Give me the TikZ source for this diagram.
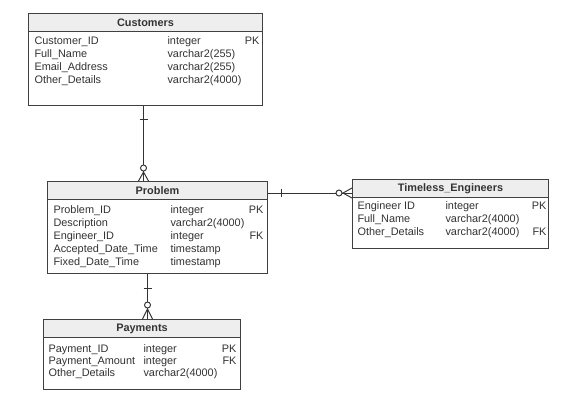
\documentclass[tikz,border=0pt]{standalone}
\usepackage{fontspec}
\setmainfont{Liberation Sans}
\usepackage{xcolor}
\usetikzlibrary{positioning}
\definecolor{edge}{HTML}{404040}
\definecolor{ink}{HTML}{333333}
\definecolor{head}{HTML}{EEEEEE}
\tikzset{
  tbl/.style = {draw=edge, fill=white, anchor=north west, inner sep=0},
  hdr/.style = {draw=edge, fill=head, anchor=north west, inner sep=0, minimum height=0.36cm, text=ink, font=\fontsize{6.2}{7}\selectfont\bfseries},
  fld/.style = {anchor=west, inner sep=0, text=ink, text height=1.6ex, text depth=0.45ex},
  key/.style = {anchor=east, inner sep=0, text=ink, text height=1.6ex, text depth=0.45ex},
  rel/.style = {draw=black!80, line width=0.55pt}
}

\begin{document}
\begin{tikzpicture}[x=0.02cm, y=-0.02cm, line width=0.6pt, font=\fontsize{6.2}{7}\selectfont]
  \useasboundingbox (0, 0) rectangle (563, 414);

  % tables
  \node[tbl, minimum width=4.68cm, minimum height=1.84cm] (cust) at (28, 13) {};
  \node[hdr, minimum width=4.68cm] (cust-h) at (cust.north west) {Customers};
  \node[tbl, minimum width=4.4cm, minimum height=1.84cm] (prob) at (47, 181) {};
  \node[hdr, minimum width=4.4cm] (prob-h) at (prob.north west) {Problem};
  \node[tbl, minimum width=3.92cm, minimum height=1.38cm] (eng) at (352, 179) {};
  \node[hdr, minimum width=3.92cm] (eng-h) at (eng.north west) {Timeless\_Engineers};
  \node[tbl, minimum width=3.94cm, minimum height=1.4cm] (pay) at (43, 319) {};
  \node[hdr, minimum width=3.94cm] (pay-h) at (pay.north west) {Payments};

  % columns
  \foreach \n/\t/\k [count=\i] in {Customer\_ID/integer/PK, Full\_Name/varchar2(255)/, Email\_Address/varchar2(255)/, Other\_Details/varchar2(4000)/}{
    \node[fld] (cust-n\i) at (34, 26 + 13*\i) {\n};
    \node[fld] (cust-t\i) at (167, 26 + 13*\i) {\t};
    \node[key] (cust-k\i) at (260, 26 + 13*\i) {\k};
  }
  \foreach \n/\t/\k [count=\i] in {Problem\_ID/integer/PK, Description/varchar2(4000)/, Engineer\_ID/integer/FK, Accepted\_Date\_Time/timestamp/, Fixed\_Date\_Time/timestamp/}{
    \node[fld] (prob-n\i) at (53, 195 + 13*\i) {\n};
    \node[fld] (prob-t\i) at (170, 195 + 13*\i) {\t};
    \node[key] (prob-k\i) at (264, 195 + 13*\i) {\k};
  }
  \foreach \n/\t/\k [count=\i] in {Engineer ID/integer/PK, Full\_Name/varchar2(4000)/, Other\_Details/varchar2(4000)/FK}{
    \node[fld] (eng-n\i) at (357, 191 + 13*\i) {\n};
    \node[fld] (eng-t\i) at (445, 191 + 13*\i) {\t};
    \node[key] (eng-k\i) at (547, 191 + 13*\i) {\k};
  }
  \foreach \n/\t/\k [count=\i] in {Payment\_ID/integer/PK, Payment\_Amount/integer/FK, Other\_Details/varchar2(4000)/}{
    \node[fld] (pay-n\i) at (48, 335 + 12*\i) {\n};
    \node[fld] (pay-t\i) at (143, 335 + 12*\i) {\t};
    \node[key] (pay-k\i) at (237, 335 + 12*\i) {\k};
  }

  % Customers -- Problem
  \coordinate (a1) at ([xshift=-0.04cm]cust.south);
  \coordinate (a2) at (a1 |- prob.north);
  \draw[rel] (a2) ++(0, -16) -- (a1);
  \draw[rel] (a1) ++(-4, 13) -- ++(8, 0);
  \draw[rel] (a2) ++(0, -13) circle [radius = 0.06cm];
  \draw[rel] (a2) ++(-5, 0) -- ++(5, -9) -- ++(5, 9);
  \draw[rel] (a2) -- ++(0, -10);

  % Problem -- Timeless_Engineers
  \coordinate (b1) at ([yshift=-0.24cm]prob.north east);
  \coordinate (b2) at (b1 -| eng.west);
  \draw[rel] (b2) ++(-16, 0) -- (b1);
  \draw[rel] (b1) ++(13, -4) -- ++(0, 8);
  \draw[rel] (b2) ++(-13, 0) circle [radius = 0.06cm];
  \draw[rel] (b2) ++(0, -5) -- ++(-9, 5) -- ++(9, 5);
  \draw[rel] (b2) -- ++(-10, 0);

  % Problem -- Payments
  \coordinate (d1) at ([xshift=-0.2cm]prob.south);
  \coordinate (d2) at (d1 |- pay.north);
  \draw[rel] (d2) ++(0, -17) -- (d1);
  \draw[rel] (d1) ++(-4, 14) -- ++(8, 0);
  \draw[rel] (d2) ++(0, -14) circle [radius = 0.06cm];
  \draw[rel] (d2) ++(-5, 0) -- ++(5, -10) -- ++(5, 10);
  \draw[rel] (d2) -- ++(-0, -11);
\end{tikzpicture}
\end{document}
